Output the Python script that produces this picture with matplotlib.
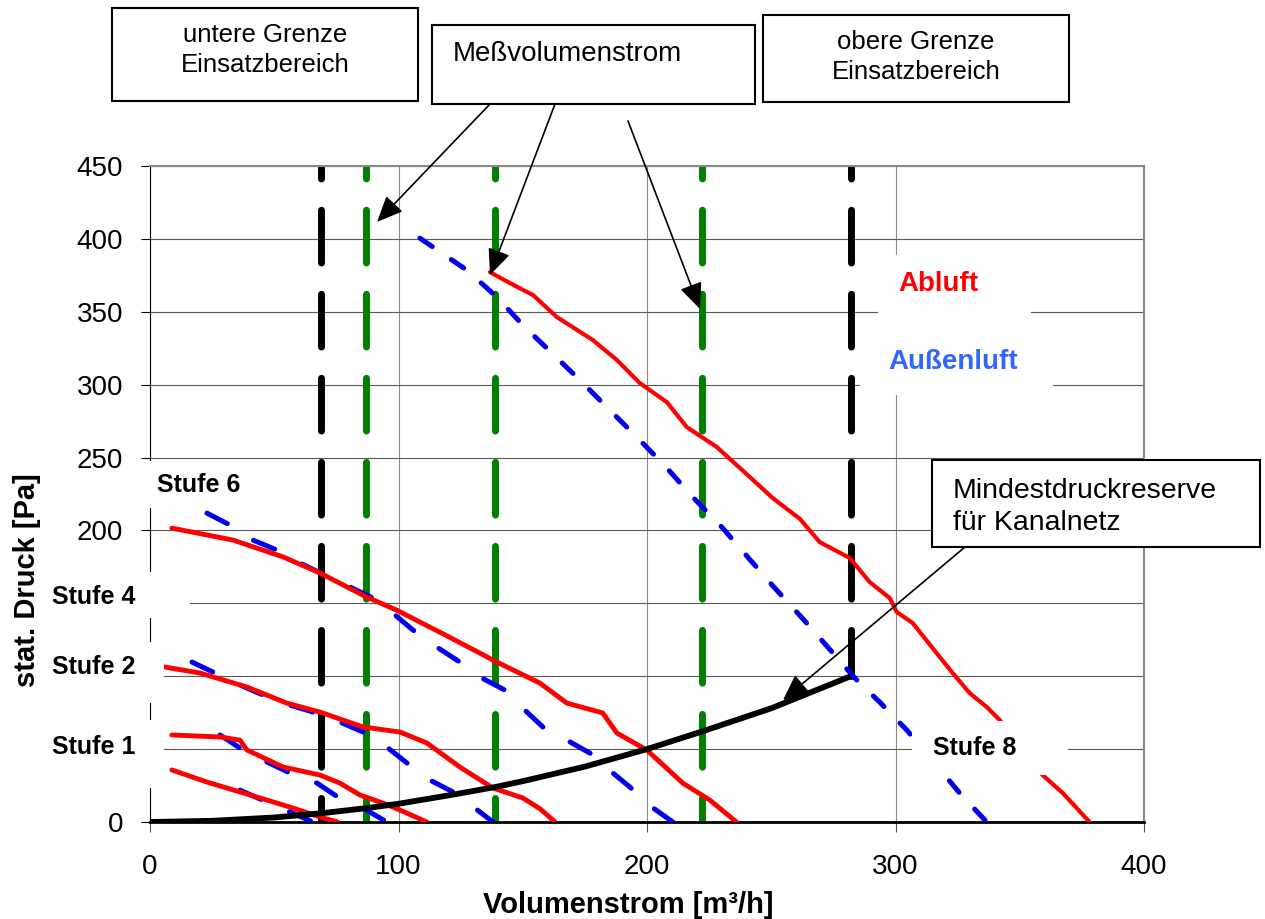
import matplotlib
matplotlib.use("Agg")
import matplotlib.pyplot as plt
from matplotlib.patches import Rectangle, FancyArrowPatch

# Police proche d'Arial
plt.rcParams['font.family'] = ['Liberation Sans', 'DejaVu Sans']

# =============================================================================
# DONNEES
# =============================================================================

# Courbes Abluft (rouge, trait plein)
abluft_1_x = [8.8, 22.9, 36.2, 47, 57.5, 68.4, 75.6]
abluft_1_y = [35.7, 27.4, 20.6, 15.1, 9.6, 3.4, 0]

abluft_2_x = [8.8, 28.2, 36.2, 39, 53.6, 68.4, 76.4, 84.5, 93.7, 100.6, 111.4]
abluft_2_y = [59.7, 58.3, 56.2, 49.4, 37.7, 32.2, 26.7, 18.5, 13, 8.2, 0]

abluft_3_x = [6, 20.1, 39, 55, 68.4, 85.7, 100.6, 111.4, 124.7, 138, 150, 157, 163]
abluft_3_y = [106.3, 102.2, 92.6, 81.6, 75.4, 65.2, 61.7, 54.2, 37.7, 23.3, 16.5, 9, 0]

abluft_4_x = [8.8, 33.4, 53.6, 68.4, 87.2, 99.2, 120.7, 139.6, 156.9, 167.7, 182.2, 187.9, 199.9, 214.4, 225.3, 236]
abluft_4_y = [201.6, 193.4, 181.8, 170.8, 154.3, 145.4, 126.6, 109.7, 95.3, 81.6, 74.8, 61, 49.4, 26.7, 15, 0]

abluft_5_x = [136.8, 144.8, 154.1, 163.7, 178.2, 187.9, 197.1, 208, 216, 228.1, 241.4, 250.6, 261.5, 269.5,
              281.6, 289.6, 297.7, 300.5, 306.9, 317.8, 323, 329.8, 336.7, 341.9, 350.5, 359.2, 367.3, 378.1]
abluft_5_y = [377.2, 369.7, 361.5, 346.4, 330.6, 316.9, 301.1, 288, 270.9, 257.2, 236.6, 222.2, 208, 192,
              181.1, 164.6, 153.6, 144, 136.5, 113.2, 102.2, 88.5, 78.9, 70, 51, 32.2, 19.9, 0]

# Courbes Außenluft (bleu, tirets)
aussen_1_x = [36.2, 47, 56.3, 65.6]
aussen_1_y = [21.9, 13.7, 6.9, 0]

aussen_2_x = [28.2, 37.4, 47, 56.3, 67.2, 75.6, 85.7, 95.3]
aussen_2_y = [59.7, 49.4, 41.2, 33.6, 26.7, 17.1, 9.6, 0]

aussen_3_x = [16.9, 25.3, 36.2, 45.5, 56.3, 65.6, 76.4, 85.7, 95.3, 103.4, 112.6, 121.9, 130.7, 138]
aussen_3_y = [109.7, 102.9, 94, 87.1, 80.2, 75.4, 68.6, 61.7, 51.4, 40.5, 28.8, 20.6, 9.6, 0]

aussen_4_x = [22.9, 32.2, 41.4, 51, 60.3, 70.4, 80.5, 89.7, 98.6, 105.8, 115.4, 124.7, 133.5, 142.8,
              150.8, 158.1, 167.7, 177, 185.8, 193.1, 201.9, 210.4]
aussen_4_y = [211.9, 203.7, 193.4, 186.6, 177.6, 169.4, 161.2, 153.6, 142, 131.7, 120, 109.7, 98.8, 90.5,
              76.8, 65.2, 56.2, 47.3, 34.3, 24, 10.3, 0]

aussen_5_x = [108.6, 127.5, 139.6, 150, 161.7, 173.8, 185, 196.3, 208, 218.4, 230.1, 240.5, 251.4, 262.3,
              273.5, 283.6, 293.6, 304.5, 315, 325.8, 336.7]
aussen_5_y = [400.5, 378.6, 360.1, 340.9, 321.7, 301.8, 282.6, 263.4, 242.8, 222.9, 202.3, 181.8, 160.5, 140.2,
              118.5, 98.8, 82.3, 63.1, 42, 19.9, 0]

# Mindestdruckreserve (noir)
reserve_x = [0, 25, 50, 69, 87, 100, 121, 139, 150, 175, 200, 222, 250, 282]
reserve_y = [0, 0.8, 3.1, 6, 9.5, 12.5, 18.5, 24, 28, 38, 50, 62, 78, 100]

# Limites verticales
grenzen_x = [69, 282]        # untere / obere Grenze
grenzen_bas = [0, 100]       # bas de chaque ligne noire
mess_x = [87, 139, 222]      # Meßvolumenstrom

x_ticks = [0, 100, 200, 300, 400]
y_ticks = [0, 50, 100, 150, 200, 250, 300, 350, 400, 450]
# les graduations 50, 100 et 150 sont cachees par les etiquettes "Stufe"
y_labels = ["0", "", "", "", "200", "250", "300", "350", "400", "450"]

# =============================================================================
# FIGURE
# =============================================================================

W, H = 1265, 919
fig = plt.figure(figsize=(W / 100, H / 100), dpi=100)
ax = fig.add_axes([150 / W, 1 - 822 / H, (1144 - 150) / W, (822 - 166) / H])


# Conversion pixels (origine en haut a gauche) -> fraction de figure
def px(x, y):
    return x / W, 1 - y / H


# Lignes verticales en tirets
style_vert = dict(lw=5, linestyle=(5.8, (7.6, 4.5)), dash_capstyle='round', zorder=2)
for xg, yb in zip(grenzen_x, grenzen_bas):
    ax.plot([xg, xg], [450, yb], color='black', **style_vert)
for xm in mess_x:
    ax.plot([xm, xm], [450, 0], color='#008000', **style_vert)

# Courbes bleues
style_bleu = dict(color='#0000EE', lw=3.6, dash_capstyle='round', zorder=3)
for bx, by in [(aussen_1_x, aussen_1_y), (aussen_2_x, aussen_2_y),
               (aussen_3_x, aussen_3_y), (aussen_4_x, aussen_4_y)]:
    ax.plot(bx, by, linestyle=(0, (4.6, 6.2)), **style_bleu)
ax.plot(aussen_5_x, aussen_5_y, linestyle=(0, (3.0, 4.6)), **style_bleu)

# Courbes rouges
for rx, ry in [(abluft_1_x, abluft_1_y), (abluft_2_x, abluft_2_y),
               (abluft_3_x, abluft_3_y), (abluft_4_x, abluft_4_y)]:
    ax.plot(rx, ry, color='#FF0000', lw=3.5, solid_capstyle='round', solid_joinstyle='round', zorder=4)
ax.plot(abluft_5_x, abluft_5_y, color='#FF0000', lw=3, solid_capstyle='round', solid_joinstyle='round', zorder=4)

# Courbe noire
ax.plot(reserve_x, reserve_y, color='black', lw=4.2, solid_capstyle='butt', zorder=5)

# Axes
ax.set_xlim(0, 400)
ax.set_ylim(0, 450)
ax.set_xticks(x_ticks)
ax.set_yticks(y_ticks)
ax.set_yticklabels(y_labels)
ax.set_axisbelow(True)
ax.yaxis.grid(True, color='#5a5a5a', lw=0.8)
ax.xaxis.grid(True, color='#8a8a8a', lw=0.8)
ax.tick_params(axis='y', length=6.5, width=0.8, pad=13, labelsize=20)
ax.tick_params(axis='x', length=7, width=0.8, pad=16, labelsize=20, color='#555555')
ax.spines['left'].set_linewidth(0.8)
ax.spines['bottom'].set_linewidth(2)
for s in ['top', 'right']:
    ax.spines[s].set_color('#888888')
    ax.spines[s].set_linewidth(1.5)

# Titres des axes
fig.text(*px(628, 905), "Volumenstrom [m³/h]", ha='center', va='center', fontsize=21, fontweight='bold')
fig.text(*px(27, 580), "stat. Druck [Pa]", ha='center', va='center', rotation=90, fontsize=21, fontweight='bold')


# =============================================================================
# ETIQUETTES ET ANNOTATIONS
# =============================================================================

def boite(x0, y0, x1, y1, bord=True):
    rect = Rectangle(px(x0, y1), (x1 - x0) / W, (y1 - y0) / H, transform=fig.transFigure,
                     facecolor='white', edgecolor='black' if bord else 'none', lw=1.5, zorder=10)
    fig.add_artist(rect)


def texte(x, y, s, **kw):
    fig.text(*px(x, y), s, va='center', zorder=11, **kw)


# Etiquettes des niveaux (fond blanc)
boite(140, 461, 260, 508, bord=False)
texte(157, 485, "Stufe 6", fontsize=18, fontweight='bold')
boite(40, 572, 190, 618, bord=False)
texte(52, 597, "Stufe 4", fontsize=18, fontweight='bold')
boite(40, 642, 164, 703, bord=False)
texte(52, 667, "Stufe 2", fontsize=18, fontweight='bold')
boite(40, 720, 164, 788, bord=False)
texte(52, 747, "Stufe 1", fontsize=18, fontweight='bold')
boite(912, 721, 1068, 775, bord=False)
texte(933, 748, "Stufe 8", fontsize=18, fontweight='bold')

# Legende Abluft / Außenluft
boite(878, 255, 1031, 327, bord=False)
texte(938, 284, "Abluft", fontsize=20, fontweight='bold', color='#FF0000', ha='center')
boite(860, 327, 1053, 395, bord=False)
texte(953, 362, "Außenluft", fontsize=20, fontweight='bold', color='#3366FF', ha='center')

# Cadres de texte
boite(112, 8, 418, 101)
texte(265, 50, "untere Grenze\nEinsatzbereich", fontsize=18.5, ha='center', linespacing=1.3)
boite(432, 25, 755, 104)
texte(453, 54, "Meßvolumenstrom", fontsize=20, ha='left')
boite(763, 15, 1069, 102)
texte(916, 57, "obere Grenze\nEinsatzbereich", fontsize=18.5, ha='center', linespacing=1.3)
boite(932, 460, 1260, 547)
texte(953, 507, "Mindestdruckreserve\nfür Kanalnetz", fontsize=20.5, ha='left', linespacing=1.3)

# Fleches
fleches = [((490, 104), (377, 222)),
           ((555, 104), (490, 275)),
           ((628, 121), (700, 309)),
           ((965, 547), (783, 700))]
for debut, fin in fleches:
    fleche = FancyArrowPatch(px(*debut), px(*fin), transform=fig.transFigure,
                             arrowstyle='-|>,head_length=0.8,head_width=0.35', mutation_scale=20,
                             lw=1.2, color='black', shrinkA=0, shrinkB=0, zorder=12)
    fig.add_artist(fleche)

fig.savefig("out.png", dpi=100)
